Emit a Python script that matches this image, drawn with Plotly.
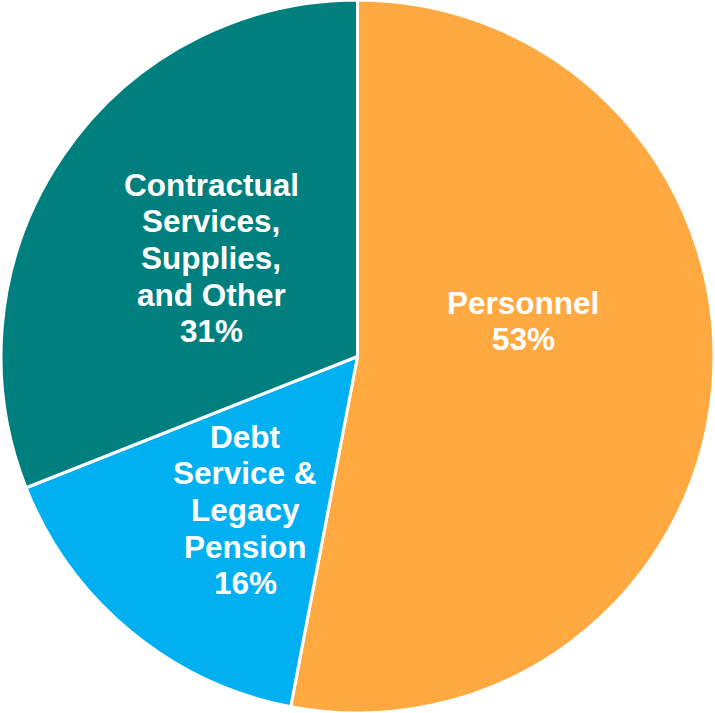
import plotly.graph_objects as go

# Budget shares by category
categories = ["Personnel", "Debt Service & Legacy Pension", "Contractual Services, Supplies, and Other"]
shares = [53, 16, 31]
colors = ["#FFA940", "#00B0F0", "#007F7F"]

# Wrapped label lines for each slice (name lines, percentage appended)
label_lines = [
    ["Personnel"],
    ["Debt", "Service &", "Legacy", "Pension"],
    ["Contractual", "Services,", "Supplies,", "and Other"],
]
# Label block centres in pixels (x, y from top) and line pitch
label_centers = [(523, 321), (245, 510), (211, 258)]
W, H = 715, 713
LINE_PX = 36.6

fig = go.Figure(
    go.Pie(
        labels=categories,
        values=shares,
        sort=False,
        direction="clockwise",
        rotation=0,
        marker=dict(colors=colors, line=dict(color="white", width=3)),
        textinfo="none",
        hoverinfo="label+percent",
        showlegend=False,
    )
)

annotations = []
for lines, share, (cx, cy) in zip(label_lines, shares, label_centers):
    all_lines = lines + [f"{share}%"]
    n = len(all_lines)
    for i, line in enumerate(all_lines):
        py = cy + (i - (n - 1) / 2) * LINE_PX
        annotations.append(
            dict(
                text=f"<b>{line}</b>",
                x=cx / W,
                y=1 - py / H,
                xref="paper",
                yref="paper",
                xanchor="center",
                yanchor="middle",
                showarrow=False,
                font=dict(family="Liberation Sans, Arial, sans-serif", size=31.5, color="white"),
            )
        )

fig.update_layout(
    width=W,
    height=H,
    margin=dict(l=0, r=0, t=0, b=0),
    paper_bgcolor="white",
    plot_bgcolor="white",
    annotations=annotations,
)

fig.write_html("out.html")
